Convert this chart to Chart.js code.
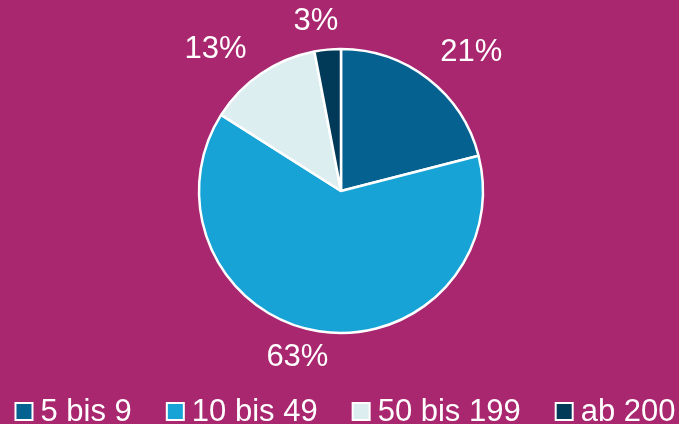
<!DOCTYPE html>
<html>
<head>
<meta charset="utf-8">
<script src="https://cdn.jsdelivr.net/npm/chart.js@4.4.0/dist/chart.umd.min.js"></script>
<style>
  html, body { margin: 0; padding: 0; background: #A9276F; }
  #wrap { width: 679px; height: 424px; position: relative; }
</style>
</head>
<body>
<div id="wrap"><canvas id="c" width="679" height="424"></canvas></div>
<script>
const categories = ['5 bis 9', '10 bis 49', '50 bis 199', 'ab 200'];
const shares = [21, 63, 13, 3];
const percentLabels = ['21%', '63%', '13%', '3%'];
const sliceColors = ['#05618F', '#17A3D6', '#DDEEF1', '#003A58'];

// label nudges relative to a point just outside each slice's mid-angle
const labelNudge = [[26, -4], [-17, -1], [-30, -1], [-9, 0]];

const labelPlugin = {
  id: 'outsideLabels',
  afterDatasetsDraw(chart) {
    const ctx = chart.ctx;
    const meta = chart.getDatasetMeta(0);
    ctx.save();
    ctx.font = '31px "Liberation Sans", Arial, sans-serif';
    ctx.fillStyle = '#FFFFFF';
    ctx.textAlign = 'center';
    ctx.textBaseline = 'middle';
    meta.data.forEach((arc, i) => {
      const p = arc.getProps(['x', 'y', 'startAngle', 'endAngle', 'outerRadius'], true);
      const mid = (p.startAngle + p.endAngle) / 2;
      const r = p.outerRadius + 28;
      const x = p.x + Math.cos(mid) * r + labelNudge[i][0];
      const y = p.y + Math.sin(mid) * r + labelNudge[i][1];
      ctx.fillText(percentLabels[i], x, y);
    });
    ctx.restore();
  }
};

const legendPlugin = {
  id: 'bottomLegend',
  afterDraw(chart) {
    const ctx = chart.ctx;
    ctx.save();
    ctx.font = '31px "Liberation Sans", Arial, sans-serif';
    ctx.textBaseline = 'middle';
    ctx.textAlign = 'left';
    const box = 17, gapText = 8, gapItem = 35;
    const widths = categories.map(t => ctx.measureText(t).width);
    const total = widths.reduce((a, w) => a + box + gapText + w, 0) + gapItem * (categories.length - 1);
    let x = (chart.width - total) / 2 + 6;
    const cy = 411.5;
    categories.forEach((t, i) => {
      ctx.fillStyle = sliceColors[i];
      ctx.strokeStyle = '#FFFFFF';
      ctx.lineWidth = 2;
      ctx.fillRect(x, cy - box / 2, box, box);
      ctx.strokeRect(x, cy - box / 2, box, box);
      ctx.fillStyle = '#FFFFFF';
      ctx.fillText(t, x + box + gapText, cy + 1);
      x += box + gapText + widths[i] + gapItem;
    });
    ctx.restore();
  }
};

new Chart(document.getElementById('c'), {
  type: 'pie',
  data: {
    labels: categories,
    datasets: [{
      data: shares,
      backgroundColor: sliceColors,
      borderColor: '#FFFFFF',
      borderWidth: 2.5
    }]
  },
  options: {
    responsive: false,
    animation: false,
    radius: 142,
    layout: { padding: { left: 3, right: 0, top: 0, bottom: 42 } },
    plugins: {
      legend: { display: false },
      tooltip: { enabled: false }
    }
  },
  plugins: [labelPlugin, legendPlugin]
});
</script>
</body>
</html>
